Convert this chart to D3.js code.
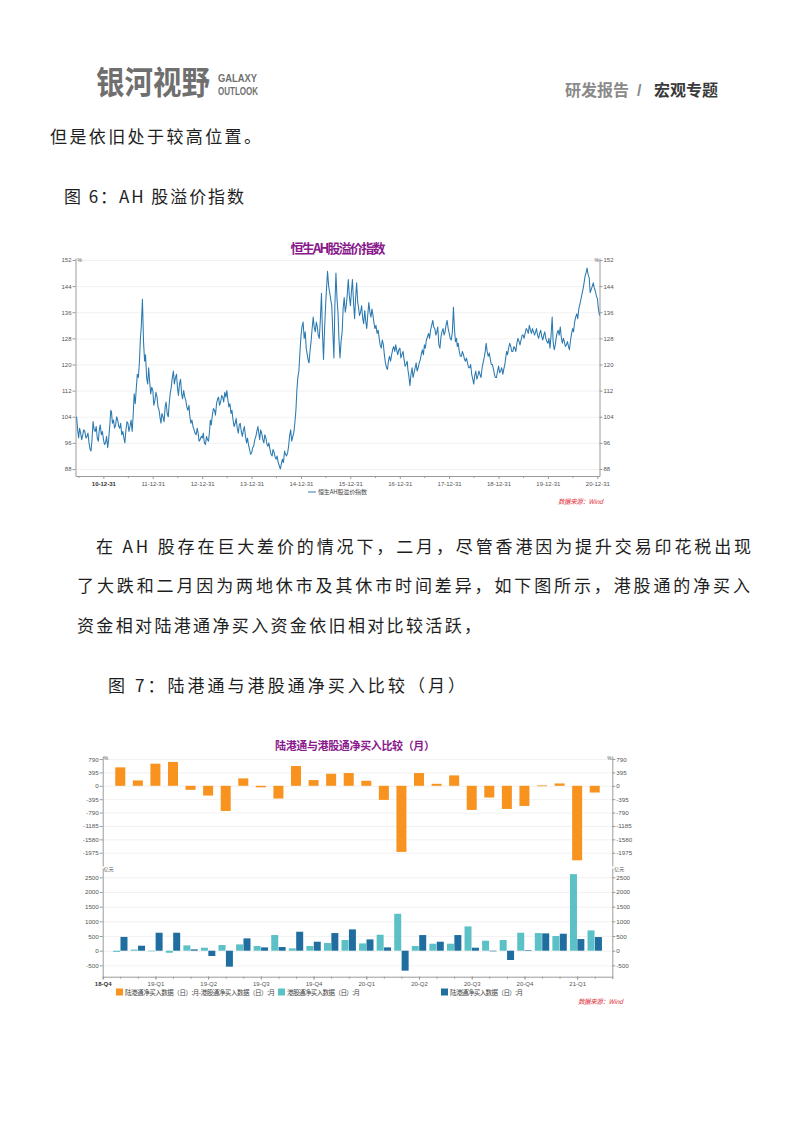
<!DOCTYPE html>
<html><head><meta charset="utf-8">
<script src="https://cdn.jsdelivr.net/npm/d3@7"></script>
<style>
html,body{margin:0;padding:0;background:#fff;}
svg{display:block;}
</style></head><body>
<svg id="page" width="802" height="1133"></svg>
<script>
// ---------------- DATA ----------------
// Chart 1: Hang Seng AH premium index, readings on the 1st, 8th, 16th, 24th of each month
const ah2010 = [104,100,97.5,100.5,99,97,98.5,100,99.5,97.5,98,99,96,94,93.5,97,102.5,100,99.5,101,97.5,96.5,100,101.5,98.5,99.5]; // from Jun 16
const ah2011 = [97,95.5,96,98,94.5,97,101,106,105.5,102,103,100.5,101.5,104,103,101,100.5,102,98.5,99.5,97.5,96,100,102.5,102,99.5,101,103,99.5,104,111,108,113,117,116,121,128,132,140,127,121,123,116,114,119,115,111,113];
const ah2012 = [112,107.5,109,111.5,110,107,106,103.5,102,105,104,102.5,107,108.5,105,104,108,111,113,116,118,114,116,117,113,110.5,114,115.5,111,109.5,112,110,109,107,106,107.5,104,102,103,101,100,99,98.5,100.5,99,96.5,97,98];
const ah2013 = [97.5,99,96,95.5,98,97,96.5,100,103,101.5,104.5,106.5,106,104.5,108,109.5,110,107.5,108.5,110.5,110,108.5,111.5,110,112,109.5,107,108,105,106,103,101,102,103.5,100.5,99,101.5,102,99.5,98,100,101,98,96,97.5,95.5,94,92.5];
const ah2014 = [93,94.5,95,97,98,99.5,101,98.5,97,100,99,97,96,98.5,97.5,95.5,95,96,94,92.5,92,94,93,91.5,91,92,90,89,88,89.5,91,90,93.5,92.5,92,93,95,98,100,96.5,98,99,102,106,112,116,118,124];
const ah2015 = [129,131.5,133,128,130,125,123,121,120.5,124,127,131,134.5,131.5,130,133,131.5,129,128,134,141.8,130,121.5,131,137.5,143,148.5,144,142,140,138,130,122,138,148,140,136,128,122,127,130,137,140.5,136,138,141,146,141];
const ah2016 = [138,142,146,139,134,140,145,139,137.5,135,136,138,134,132.5,136.5,133,131,135,139,136,134.5,137,135,132.5,131,132,129.5,130.5,128,126,125,127.5,126,123,120.5,119,118.5,121,122.5,121,123,124.5,125.5,124,126,124.5,123,124.5];
const ah2017 = [125,122,123,124,121.5,119.5,120,121,118.5,116.5,113.5,117,119,116,117.5,119,120.5,118,119,120.5,121.5,123,124.5,123,126,125,127.5,128.5,129.5,128,130.5,132,133.5,131.5,131,129,130,131.5,126,125,128.5,130,131,129,130,132,133.5,131];
const ah2018 = [129.5,128,127.5,130,137.5,131,127,128,125.5,126.5,124,122.5,122.5,124,123,121.5,121,122,120.5,119,119,120,117,115.5,114,116.5,118,115.5,116.5,118,117,116,119,120.5,122,124,126.5,124,122.5,123.5,121.5,120,120,118.5,117,116,116,118];
const ah2019 = [119.5,117.5,118,119,117,118.5,120,122.5,124,123,125,126.5,125.5,124,124,125.5,125,124,126.5,128,127,126,127.5,129,129,128,129.5,131,130.5,129.5,132,130.5,129.5,131,130,129,130,131,129,128,129.5,130.5,128.5,127.5,129,130,128,127];
const ah2020 = [126.5,128,125,129,134.5,127,124.5,126,128,129.5,130.5,129,131.5,128.5,126.5,128,127,125.5,126,127,125.5,124.5,127.5,129.5,131,130,133,134.5,135.5,134,137,138.5,140,141.5,143,145,147,148,149.5,147.5,146.5,142,143,144,145,143.5,142.5,141];
const ah2021 = [140, 137, 135];
const ahYTicks = [88, 96, 104, 112, 120, 128, 136, 144, 152];
const ahXTickLabels = ["10-12-31","11-12-31","12-12-31","13-12-31","14-12-31","15-12-31","16-12-31","17-12-31","18-12-31","19-12-31","20-12-31"];

// Chart 2: monthly net buying, Nov 2018 .. Feb 2021 (亿元)
const flowMonths = ["2018-11","2018-12","2019-01","2019-02","2019-03","2019-04","2019-05","2019-06","2019-07","2019-08","2019-09","2019-10","2019-11","2019-12","2020-01","2020-02","2020-03","2020-04","2020-05","2020-06","2020-07","2020-08","2020-09","2020-10","2020-11","2020-12","2021-01","2021-02"];
const diffVals = [544, 158, 653, 703, -119, -288, -742, 218, -45, -376, 584, 168, 356, 376, 148, -416, -1950, 376, 59, 307, -712, -346, -683, -594, 12, 69, -2198, -198];
const southVals = [-40, 40, -20, -70, 181, 102, 193, 215, 159, 533, 79, 159, 261, 363, 249, 544, 1258, 159, 238, 238, 827, 340, 363, 612, 601, 499, 2608, 691];
const northVals = [470, 170, 612, 612, 45, -181, -544, 420, 113, 125, 646, 306, 601, 726, 385, 113, -680, 533, 306, 533, 102, -15, -317, 10, 590, 578, 397, 465];
const quarterLabels = ["18-Q4","19-Q1","19-Q2","19-Q3","19-Q4","20-Q1","20-Q2","20-Q3","20-Q4","21-Q1"];
const topTicks = [790, 395, 0, -395, -790, -1185, -1580, -1975];
const botTicks = [2500, 2000, 1500, 1000, 500, 0, -500];

// ---------------- PAGE ----------------
const svg = d3.select("#page");
svg.append("rect").attr("width", 802).attr("height", 1133).attr("fill", "#fff");
const CJK = "'Noto Sans CJK SC','Noto Sans',sans-serif";
const LAT = "'Liberation Sans',Arial,sans-serif";
const plain = d => String(d);

function text(x, y, s, o = {}) {
  const t = svg.append("text").attr("x", x).attr("y", y).text(s)
    .attr("font-family", o.ff || CJK).attr("font-size", o.fs || 12)
    .attr("fill", o.fill || "#222").attr("font-weight", o.fw || 400)
    .attr("text-anchor", o.anchor || "start");
  if (o.tl) t.attr("textLength", o.tl).attr("lengthAdjust", o.la || "spacing");
  if (o.italic) t.attr("font-style", "italic");
  return t;
}

// header
svg.append("text").attr("transform", "translate(96,94) scale(1,1.12)")
  .attr("font-family", CJK).attr("font-size", 28.5).attr("font-weight", 700).attr("fill", "#6f6f6f")
  .text("银河视野");
text(218, 82, "GALAXY", {ff: LAT, fs: 11, fw: 700, fill: "#6f6f6f", tl: 39, la: "spacingAndGlyphs"});
text(218, 95, "OUTLOOK", {ff: LAT, fs: 11, fw: 700, fill: "#6f6f6f", tl: 40, la: "spacingAndGlyphs"});
text(565, 96, "研发报告", {fs: 16, fw: 700, fill: "#8a8a8a", tl: 64});
text(637, 96, "/", {ff: LAT, fs: 16, fw: 700, fill: "#8a8a8a"});
text(654, 96, "宏观专题", {fs: 16, fw: 700, fill: "#3a3a3a", tl: 64});

// body text
const body = {fs: 17, fill: "#1e1e1e"};
text(50, 143, "但是依旧处于较高位置。", {...body, tl: 211});
text(64, 203, "图 6：AH 股溢价指数", {...body, tl: 180});
text(96, 553, "在 AH 股存在巨大差价的情况下，二月，尽管香港因为提升交易印花税出现", {...body, tl: 655});
text(77, 592, "了大跌和二月因为两地休市及其休市时间差异，如下图所示，港股通的净买入", {...body, tl: 673});
text(77, 632, "资金相对陆港通净买入资金依旧相对比较活跃，", {...body, tl: 404});
text(108, 692, "图 7：陆港通与港股通净买入比较（月）", {...body, tl: 357});

// ---------------- CHART 1 ----------------
const parseD = d3.timeParse("%y-%m-%d");
const qDays = [1, 8, 16, 24];
const ahSeries = [];
[[2010, ah2010, 22], [2011, ah2011, 0], [2012, ah2012, 0], [2013, ah2013, 0], [2014, ah2014, 0],
 [2015, ah2015, 0], [2016, ah2016, 0], [2017, ah2017, 0], [2018, ah2018, 0], [2019, ah2019, 0],
 [2020, ah2020, 0], [2021, ah2021, 0]].forEach(([yr, arr, off]) => {
  arr.forEach((v, i) => {
    const k = i + off;
    ahSeries.push({d: new Date(yr, Math.floor(k / 4), qDays[k % 4]), v});
  });
});

const c1 = {l: 75.5, r: 599.5, t: 258, b: 476};
const x1 = d3.scaleTime().domain([new Date(2010, 5, 8), new Date(2021, 0, 16)]).range([c1.l, c1.r]);
const y1 = d3.scaleLinear().domain([85.86, 152.6]).range([c1.b, c1.t]);

const g1 = svg.append("g");
g1.append("g").attr("transform", `translate(${c1.l},0)`)
  .call(d3.axisLeft(y1).tickValues(ahYTicks).tickSize(-(c1.r - c1.l)).tickFormat(""))
  .call(g => { g.select(".domain").remove(); g.selectAll("line").attr("stroke", "#ededed").attr("stroke-width", 0.8); });

function styleAxis(g, fs) {
  g.select(".domain").attr("stroke", "#9a9a9a").attr("stroke-width", 1);
  g.selectAll(".tick line").attr("stroke", "#9a9a9a");
  g.selectAll("text").attr("font-family", LAT).attr("font-size", fs || 6).attr("fill", "#555");
}
g1.append("g").attr("transform", `translate(${c1.l},0)`)
  .call(d3.axisLeft(y1).tickValues(ahYTicks).tickSize(3).tickPadding(1).tickSizeOuter(0).tickFormat(plain))
  .call(g => styleAxis(g));
g1.append("g").attr("transform", `translate(${c1.r},0)`)
  .call(d3.axisRight(y1).tickValues(ahYTicks).tickSize(3).tickPadding(1).tickSizeOuter(0).tickFormat(plain))
  .call(g => styleAxis(g));
const halfYears = ahXTickLabels.map(s => { const d = parseD(s); return new Date(d.getFullYear(), 5, 30); });
g1.append("g").attr("transform", `translate(0,${c1.b})`)
  .call(d3.axisBottom(x1).tickValues(halfYears).tickSize(2).tickFormat(""))
  .call(g => { g.select(".domain").remove(); g.selectAll("line").attr("stroke", "#9a9a9a"); });
g1.append("g").attr("transform", `translate(0,${c1.b})`)
  .call(d3.axisBottom(x1).tickValues(ahXTickLabels.map(parseD)).tickSize(3).tickPadding(3).tickSizeOuter(0)
    .tickFormat((d, i) => ahXTickLabels[i]))
  .call(g => { styleAxis(g); g.selectAll("text").filter((d, i) => i === 0).attr("font-weight", 700).attr("fill", "#333"); });

text(c1.l + 2, c1.t + 4, "%", {ff: LAT, fs: 5, fill: "#555"});
text(c1.r - 5, c1.t + 4, "%", {ff: LAT, fs: 5, fill: "#555"});

g1.append("path").datum(ahSeries)
  .attr("d", d3.line().x(d => x1(d.d)).y(d => y1(d.v)))
  .attr("fill", "none").attr("stroke", "#2a79b0").attr("stroke-width", 1.05).attr("stroke-linejoin", "round");

text(338, 253, "恒生AH股溢价指数", {fs: 13, fw: 700, fill: "#8a1a8c", anchor: "middle", tl: 95});
g1.append("line").attr("x1", 308).attr("x2", 316).attr("y1", 492).attr("y2", 492).attr("stroke", "#2a79b0").attr("stroke-width", 1);
text(318, 494.3, "恒生AH股溢价指数", {fs: 6, fill: "#444", tl: 49});
text(558, 504, "数据来源：Wind", {fs: 6.5, fill: "#e0323c", italic: true, tl: 45});

// ---------------- CHART 2 ----------------
const c2 = {l: 102.7, r: 612.3, tTop: 756, bTop: 866, tBot: 868, bBot: 976.7};
const x2 = d3.scaleLinear().domain([0, 29]).range([c2.l, c2.r]);
const y2a = d3.scaleLinear().domain([-2366, 879]).range([c2.bTop, c2.tTop]);
const y2b = d3.scaleLinear().domain([-885.6, 2817]).range([c2.bBot, c2.tBot]);
const g2 = svg.append("g");

[[y2a, topTicks], [y2b, botTicks]].forEach(([ys, tv]) => {
  g2.append("g").attr("transform", `translate(${c2.l},0)`)
    .call(d3.axisLeft(ys).tickValues(tv).tickSize(-(c2.r - c2.l)).tickFormat(""))
    .call(g => { g.select(".domain").remove(); g.selectAll("line").attr("stroke", "#eeeeee").attr("stroke-width", 0.8); });
  g2.append("g").attr("transform", `translate(${c2.l},0)`)
    .call(d3.axisLeft(ys).tickValues(tv).tickSize(3).tickPadding(1).tickSizeOuter(0).tickFormat(plain))
    .call(g => styleAxis(g, 6.2));
  g2.append("g").attr("transform", `translate(${c2.r},0)`)
    .call(d3.axisRight(ys).tickValues(tv).tickSize(3).tickPadding(1).tickSizeOuter(0).tickFormat(plain))
    .call(g => styleAxis(g, 6.2));
});

const idx = flowMonths.map((m, i) => i + 1);
g2.selectAll(".bt").data(diffVals).join("rect")
  .attr("x", (d, i) => x2(idx[i]) - 5).attr("width", 10)
  .attr("y", d => y2a(Math.max(0, d))).attr("height", d => Math.max(0.8, Math.abs(y2a(d) - y2a(0))))
  .attr("fill", "#f7931e");
g2.selectAll(".bs").data(southVals).join("rect")
  .attr("x", (d, i) => x2(idx[i]) - 7.2).attr("width", 7)
  .attr("y", d => y2b(Math.max(0, d))).attr("height", d => Math.max(0.6, Math.abs(y2b(d) - y2b(0))))
  .attr("fill", "#5bc1c6");
g2.selectAll(".bn").data(northVals).join("rect")
  .attr("x", (d, i) => x2(idx[i]) + 0.2).attr("width", 7)
  .attr("y", d => y2b(Math.max(0, d))).attr("height", d => Math.max(0.6, Math.abs(y2b(d) - y2b(0))))
  .attr("fill", "#1f6e9f");

g2.append("g").attr("transform", `translate(0,${c2.bBot})`)
  .call(d3.axisBottom(x2).tickValues(d3.range(0, 30)).tickSize(2).tickFormat(""))
  .call(g => { g.select(".domain").attr("stroke", "#9a9a9a"); g.selectAll("line").attr("stroke", "#9a9a9a"); });
g2.append("g").attr("transform", `translate(0,${c2.bBot})`)
  .call(d3.axisBottom(x2).tickValues(quarterLabels.map((q, i) => i * 3)).tickSize(3).tickPadding(2)
    .tickFormat((d, i) => quarterLabels[i]))
  .call(g => { g.select(".domain").remove(); styleAxis(g, 6); g.selectAll("text").filter((d, i) => i === 0).attr("font-weight", 700).attr("fill", "#333"); });

text(c2.l + 1, c2.tTop + 4, "%", {ff: LAT, fs: 5, fill: "#555"});
text(c2.r - 5, c2.tTop + 4, "%", {ff: LAT, fs: 5, fill: "#555"});
text(c2.l + 1, 871, "亿元", {fs: 5, fill: "#555"});
text(c2.r + 2, 871, "亿元", {fs: 5, fill: "#555"});

text(355, 750, "陆港通与港股通净买入比较（月）", {fs: 11, fw: 700, fill: "#8a1a8c", anchor: "middle", tl: 160});

svg.append("rect").attr("x", 116).attr("y", 988.5).attr("width", 7).attr("height", 7).attr("fill", "#f7931e");
text(125, 994.5, "陆港通净买入数据（日）:月-港股通净买入数据（日）:月", {fs: 6.5, fill: "#444", tl: 150});
svg.append("rect").attr("x", 278).attr("y", 988.5).attr("width", 7).attr("height", 7).attr("fill", "#5bc1c6");
text(287, 994.5, "港股通净买入数据（日）:月", {fs: 6.5, fill: "#444", tl: 73});
svg.append("rect").attr("x", 441).attr("y", 988.5).attr("width", 7).attr("height", 7).attr("fill", "#1f6e9f");
text(450, 994.5, "陆港通净买入数据（日）:月", {fs: 6.5, fill: "#444", tl: 73});
text(578, 1003.5, "数据来源：Wind", {fs: 6.5, fill: "#e0323c", italic: true, tl: 45});
</script>
</body></html>
